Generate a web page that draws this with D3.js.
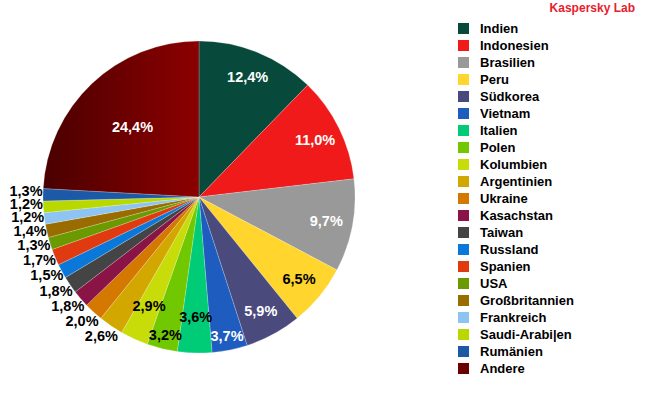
<!DOCTYPE html>
<html>
<head>
<meta charset="utf-8">
<script src="https://cdn.jsdelivr.net/npm/d3@7"></script>
<style>
  body { margin: 0; background: #fff; }
  text { font-family: "Liberation Sans", Arial, sans-serif; font-weight: bold; }
</style>
</head>
<body>
<div id="chart"></div>
<script>
"use strict";

// Data of the chart
var countries = ["Indien", "Indonesien", "Brasilien", "Peru", "Südkorea", "Vietnam", "Italien",
  "Polen", "Kolumbien", "Argentinien", "Ukraine", "Kasachstan", "Taiwan", "Russland", "Spanien",
  "USA", "Großbritannien", "Frankreich", "Saudi-Arabi|en", "Rumänien", "Andere"];
var shares = [12.4, 11.0, 9.7, 6.5, 5.9, 3.7, 3.6, 3.2, 2.9, 2.6, 2.0, 1.8, 1.8, 1.5, 1.7,
  1.3, 1.4, 1.2, 1.2, 1.3, 24.4];
var colors = ["#074a3c", "#f01a1a", "#999999", "#ffd52e", "#4a4a7c", "#1e5cc0", "#00cc77",
  "#72c800", "#c8dc0a", "#d2a800", "#d47800", "#8a1446", "#444444", "#0a78d8", "#e03a10",
  "#6a9a00", "#9a6c00", "#8ec4f2", "#b8d800", "#1c5aa8", "#6a0000"];

// Dimensions
var width = 650, height = 400;
var cx = 199, cy = 197, radius = 156;

var svg = d3.select("#chart").append("svg")
  .attr("width", width)
  .attr("height", height);

// Gradient for the "Andere" slice
var defs = svg.append("defs");
var grad = defs.append("linearGradient")
  .attr("id", "andereGrad")
  .attr("x1", "0%").attr("x2", "100%")
  .attr("y1", "0%").attr("y2", "0%");
grad.append("stop").attr("offset", "0%").attr("stop-color", "#4a0000");
grad.append("stop").attr("offset", "100%").attr("stop-color", "#8c0000");

function fillOf(i) {
  return countries[i] === "Andere" ? "url(#andereGrad)" : colors[i];
}

// Luminance used to choose label colour inside slices
function luminance(c) {
  var rgb = d3.rgb(c);
  var f = v => Math.pow(v / 255, 2.2);
  return 0.2126 * f(rgb.r) + 0.7152 * f(rgb.g) + 0.0722 * f(rgb.b);
}

var pie = d3.pie().sort(null).value(d => d)(shares);
var arc = d3.arc().innerRadius(0).outerRadius(radius);

var g = svg.append("g").attr("transform", `translate(${cx}, ${cy})`);

g.selectAll("path")
  .data(pie)
  .enter()
  .append("path")
    .attr("d", arc)
    .attr("fill", (d, i) => fillOf(i))
    .attr("stroke", "#ffffff")
    .attr("stroke-opacity", 0.35)
    .attr("stroke-width", 0.6);

// Labels
function fmt(v) { return v.toFixed(1).replace(".", ",") + "%"; }

g.selectAll("text.lbl")
  .data(pie)
  .enter()
  .append("text")
    .attr("class", "lbl")
    .each(function(d, i) {
      var a = (d.startAngle + d.endAngle) / 2;
      var inside = d.value >= 2.9;
      var r;
      if (!inside) r = radius + 17;
      else if (d.value > 20) r = radius * 0.62;
      else if (d.value >= 5) r = radius * 0.83;
      else r = (i % 2 === 1) ? radius * 0.91 : radius * 0.77;
      var x = Math.sin(a) * r;
      var y = -Math.cos(a) * r - (inside ? 0 : 4);
      d3.select(this)
        .attr("x", x)
        .attr("y", y)
        .attr("dy", "0.36em")
        .attr("text-anchor", "middle")
        .attr("font-size", "14.5px")
        .attr("fill", inside && luminance(colors[i]) < 0.38 ? "#ffffff" : "#000000")
        .text(fmt(d.value));
    });

// Legend
var legend = svg.append("g")
  .attr("transform", "translate(458, 23)");

legend.selectAll("rect")
  .data(countries)
  .enter()
  .append("rect")
    .attr("x", 0)
    .attr("y", (d, i) => i * 17)
    .attr("width", 11)
    .attr("height", 11)
    .attr("fill", (d, i) => fillOf(i) === "url(#andereGrad)" ? "#6a0000" : colors[i]);

legend.selectAll("text")
  .data(countries)
  .enter()
  .append("text")
    .attr("x", 22)
    .attr("y", (d, i) => i * 17 + 5.5)
    .attr("dy", "0.36em")
    .attr("font-size", "13px")
    .attr("fill", "#000")
    .text(d => d);

// Source
svg.append("text")
  .attr("x", 635)
  .attr("y", 12)
  .attr("text-anchor", "end")
  .attr("font-size", "12px")
  .attr("fill", "#e8202e")
  .text("Kaspersky Lab");
</script>
</body>
</html>
